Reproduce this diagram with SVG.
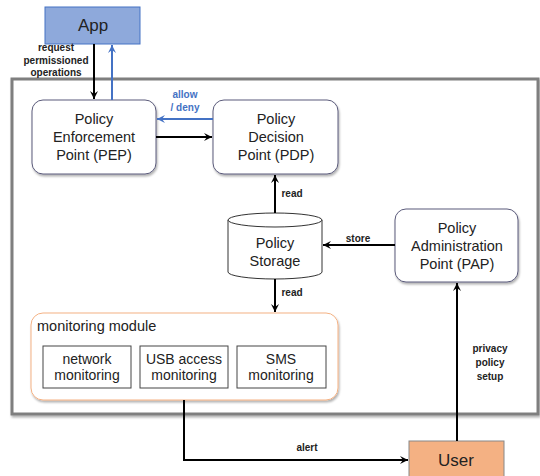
<svg xmlns="http://www.w3.org/2000/svg" width="540" height="476" viewBox="0 0 540 476">
<defs>
<marker id="ah" markerWidth="10" markerHeight="10" refX="9" refY="5" orient="auto" markerUnits="userSpaceOnUse"><path d="M1,1 L9,5 L1,9 L4,5 Z" fill="#000"/></marker>
<marker id="ahb" markerWidth="10" markerHeight="10" refX="9" refY="5" orient="auto" markerUnits="userSpaceOnUse"><path d="M1,1 L9,5 L1,9 L4,5 Z" fill="#4472C4"/></marker>
<filter id="sh" x="-10%" y="-10%" width="120%" height="130%"><feDropShadow dx="1" dy="2" stdDeviation="1.2" flood-color="#000" flood-opacity="0.3"/></filter>
</defs>
<style>
.t{font-family:"Liberation Sans",Arial,sans-serif;font-size:14.5px;fill:#222;text-anchor:middle}
.s{font-size:14px}
.l{font-family:"Liberation Sans",Arial,sans-serif;font-size:10px;font-weight:bold;fill:#222;text-anchor:middle}
.node{fill:#fff;stroke:#5a5a7a;stroke-width:1;filter:url(#sh)}
.sub{fill:#fff;stroke:#444;stroke-width:1}
.c{fill:none;stroke:#000;stroke-width:2;marker-end:url(#ah)}
.cb{fill:none;stroke:#4472C4;stroke-width:2;marker-end:url(#ahb)}
</style>
<rect width="540" height="476" fill="#fff"/>
<g id="frame"><rect x="12" y="79" width="526" height="335" fill="#fff" stroke="#7f7f7f" stroke-width="3" filter="url(#sh)"/></g>
<g id="app"><rect x="45" y="7" width="95" height="37" fill="#8EA9DB" stroke="#4472C4" stroke-width="1"/><text class="t" x="93" y="31" style="font-size:17px">App</text></g>
<g id="pep"><rect class="node" x="32" y="100" width="124" height="74" rx="11"/><text class="t" x="94" y="124">Policy</text><text class="t" x="94" y="142">Enforcement</text><text class="t" x="94" y="160">Point  (PEP)</text></g>
<g id="pdp"><rect class="node" x="213" y="100" width="125" height="74" rx="11"/><text class="t" x="276" y="124">Policy</text><text class="t" x="276" y="142">Decision</text><text class="t" x="276" y="160">Point  (PDP)</text></g>
<g id="storage"><path d="M228,220 L228,272 A47,7 0 0 0 322,272 L322,220" fill="#fff" stroke="#333" stroke-width="1"/><ellipse cx="275" cy="220" rx="47" ry="7" fill="#fff" stroke="#333" stroke-width="1"/><text class="t" x="275" y="248">Policy</text><text class="t" x="275" y="266">Storage</text></g>
<g id="pap"><rect class="node" x="395" y="209" width="123" height="73" rx="11"/><text class="t" x="457" y="233">Policy</text><text class="t" x="457" y="251">Administration</text><text class="t" x="457" y="269">Point  (PAP)</text></g>
<g id="monitoring"><rect x="31" y="313" width="307" height="87" rx="12" fill="#fff" stroke="#F4B183" stroke-width="1" filter="url(#sh)"/><text class="t" x="37" y="331" style="text-anchor:start">monitoring  module</text>
<g id="net"><rect class="sub" x="43" y="346" width="88" height="42"/><text class="t s" x="87" y="364">network</text><text class="t s" x="87" y="380">monitoring</text></g>
<g id="usb"><rect class="sub" x="140" y="346" width="88" height="42"/><text class="t s" x="184" y="364">USB access</text><text class="t s" x="184" y="380">monitoring</text></g>
<g id="sms"><rect class="sub" x="237" y="346" width="89" height="42"/><text class="t s" x="281" y="364">SMS</text><text class="t s" x="281" y="380">monitoring</text></g>
</g>
<g id="user"><rect x="409" y="441" width="95" height="40" fill="#F4B183" stroke="#888" stroke-width="1"/><text class="t" x="456" y="466" style="font-size:17px">User</text></g>
<g id="connectors">
<line class="c" x1="94" y1="44" x2="94" y2="99"/>
<line class="cb" x1="112" y1="100" x2="112" y2="45"/>
<line class="cb" x1="213" y1="119" x2="157" y2="119"/>
<line class="c" x1="156" y1="137" x2="212" y2="137"/>
<line class="c" x1="275" y1="213" x2="275" y2="175"/>
<line class="c" x1="275" y1="279" x2="275" y2="312"/>
<line class="c" x1="395" y1="245" x2="323" y2="245"/>
<line class="c" x1="457" y1="441" x2="457" y2="283"/>
<polyline class="c" points="184,400 184,460 408,460"/>
</g>
<g id="labels">
<text class="l" x="56" y="51">request</text><text class="l" x="56" y="63.5">permissioned</text><text class="l" x="56" y="76">operations</text>
<text class="l" x="185" y="98" style="fill:#4472C4">allow</text><text class="l" x="185" y="111" style="fill:#4472C4">/ deny</text>
<text class="l" x="292" y="197">read</text>
<text class="l" x="292" y="296">read</text>
<text class="l" x="358" y="242">store</text>
<text class="l" x="307" y="451">alert</text>
<text class="l" x="490" y="352">privacy</text><text class="l" x="490" y="366">policy</text><text class="l" x="490" y="380">setup</text>
</g>
</svg>
